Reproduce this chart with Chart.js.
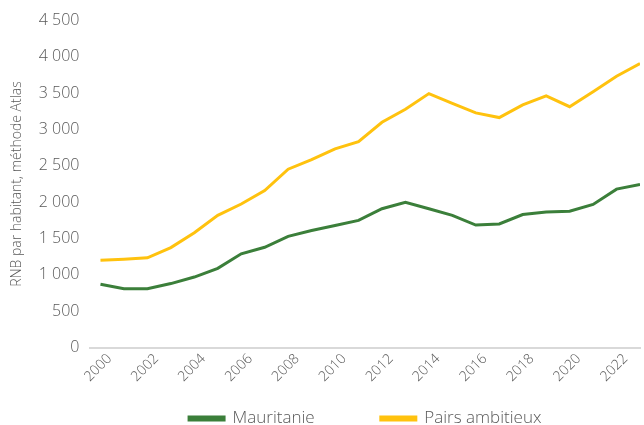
<!DOCTYPE html>
<html lang="fr">
<head>
  <meta charset="UTF-8">
  <title>RNB par habitant</title>
  <script src="https://cdn.jsdelivr.net/npm/chart.js"></script>
  <style>
    body { margin: 0; background: #fff; }
    #wrap { width: 644px; height: 425px; }
  </style>
</head>
<body>
  <div id="wrap"><canvas id="rnbChart"></canvas></div>

  <script>
    const years = [2000, 2001, 2002, 2003, 2004, 2005, 2006, 2007, 2008, 2009, 2010, 2011,
                   2012, 2013, 2014, 2015, 2016, 2017, 2018, 2019, 2020, 2021, 2022, 2023];
    const mauritanie = [870, 810, 810, 880, 970, 1090, 1290, 1380, 1530, 1610, 1680, 1750,
                        1910, 2000, 1910, 1820, 1685, 1700, 1830, 1865, 1875, 1970, 2180, 2245];
    const pairsAmbitieux = [1200, 1215, 1235, 1375, 1580, 1820, 1975, 2160, 2455, 2585, 2735, 2835,
                            3100, 3280, 3495, 3360, 3230, 3165, 3340, 3465, 3315, 3520, 3735, 3910];
    const xTicks = [2000, 2002, 2004, 2006, 2008, 2010, 2012, 2014, 2016, 2018, 2020, 2022];
    const yTicks = [0, 500, 1000, 1500, 2000, 2500, 3000, 3500, 4000, 4500];

    const grey = '#595959';
    const font = 'Open Sans';

    function points(values) {
      return values.map((v, i) => ({ x: years[i], y: v }));
    }

    // espace comme séparateur de milliers
    function fmt(v) {
      return String(v).replace(/\B(?=(\d{3})+(?!\d))/g, ' ');
    }

    const ctx = document.getElementById('rnbChart').getContext('2d');
    new Chart(ctx, {
      type: 'line',
      data: {
        datasets: [{
          label: 'Mauritanie',
          data: points(mauritanie),
          borderColor: '#3b7f3a',
          backgroundColor: '#3b7f3a',
          borderWidth: 3,
          pointRadius: 0,
          tension: 0
        }, {
          label: 'Pairs ambitieux',
          data: points(pairsAmbitieux),
          borderColor: '#ffc20e',
          backgroundColor: '#ffc20e',
          borderWidth: 3,
          pointRadius: 0,
          tension: 0
        }]
      },
      options: {
        responsive: true,
        maintainAspectRatio: false,
        animation: false,
        layout: { padding: { top: 10, right: 4, left: 0, bottom: -12 } },
        plugins: {
          tooltip: { enabled: false },
          legend: {
            position: 'bottom',
            fullSize: false,
            labels: {
              color: grey,
              font: { family: font, size: 17, weight: 300 },
              boxWidth: 35,
              boxHeight: 3,
              padding: 22,
              // un peu plus d'écart entre les deux entrées
              generateLabels: (chart) => {
                const items = Chart.defaults.plugins.legend.labels.generateLabels(chart);
                items[0].text += ' '.repeat(10);
                return items;
              }
            }
          }
        },
        scales: {
          x: {
            type: 'linear',
            min: 1999.574,
            max: 2023,
            afterBuildTicks: (scale) => { scale.ticks = xTicks.map(v => ({ value: v })); },
            grid: { display: false, drawTicks: false },
            border: { display: true, color: '#d9d9d9', width: 2 },
            ticks: {
              color: grey,
              font: { family: font, size: 14, weight: 300 },
              minRotation: 45,
              maxRotation: 45,
              padding: 3,
              labelOffset: 9,
              callback: (v) => String(v)
            }
          },
          y: {
            min: 0,
            max: 4500,
            afterBuildTicks: (scale) => { scale.ticks = yTicks.map(v => ({ value: v })); },
            grid: { display: false, drawTicks: false },
            border: { display: false },
            ticks: {
              color: grey,
              font: { family: font, size: 16, weight: 300 },
              padding: 11,
              callback: (v) => fmt(v)
            },
            title: {
              display: true,
              text: 'RNB par habitant, méthode Atlas',
              color: grey,
              font: { family: font, size: 14, weight: 300 },
              padding: { top: 9, bottom: 2 }
            }
          }
        }
      }
    });
  </script>
</body>
</html>
